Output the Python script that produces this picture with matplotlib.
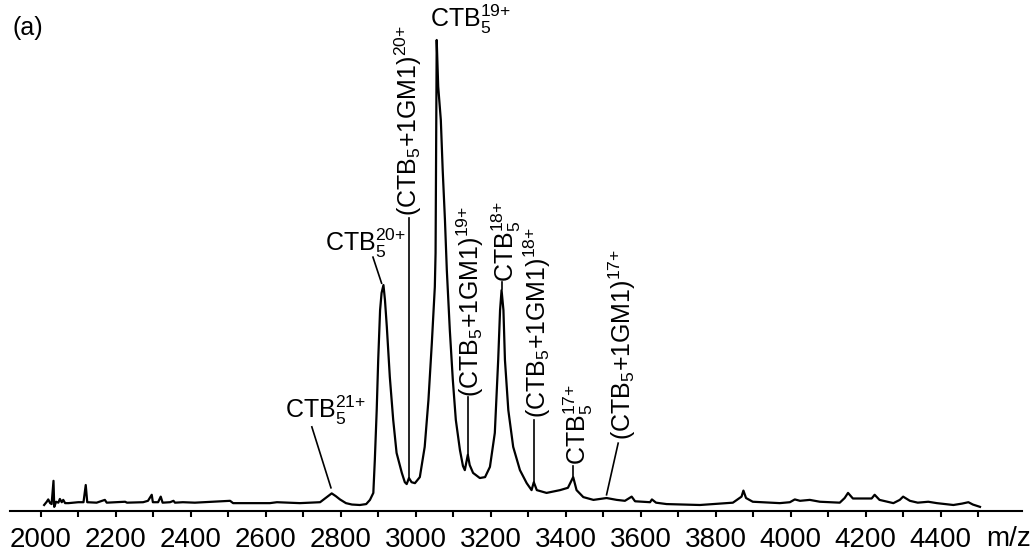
import numpy as np
import matplotlib.pyplot as plt
from matplotlib.ticker import FixedLocator

plt.rcParams['font.family'] = ['Liberation Sans', 'DejaVu Sans']
plt.rcParams['mathtext.fontset'] = 'custom'
plt.rcParams['mathtext.rm'] = 'Liberation Sans'
plt.rcParams['mathtext.it'] = 'Liberation Sans:italic'
plt.rcParams['mathtext.bf'] = 'Liberation Sans:bold'

# spectrum (m/z, relative intensity %)
mz = [2009, 2016, 2020, 2025, 2029, 2034, 2036, 2041, 2047, 2051, 2056, 2060, 2065,
      2074, 2100, 2114, 2120, 2124, 2149, 2171, 2176, 2225, 2230, 2273, 2286, 2296,
      2299, 2313, 2320, 2325, 2345, 2354, 2358, 2379, 2411, 2505, 2513, 2611, 2630,
      2691, 2718, 2745, 2763, 2776, 2787, 2798, 2814, 2830, 2851, 2868, 2878, 2887,
      2891, 2896, 2900, 2905, 2909, 2914, 2918, 2923, 2931, 2940, 2949, 2963, 2971,
      2976, 2982, 2989, 2998, 3011, 3024, 3034, 3043, 3051, 3053, 3054, 3055, 3056,
      3060, 3067, 3072, 3078, 3083, 3091, 3099, 3107, 3118, 3126, 3131, 3139, 3144,
      3153, 3171, 3185, 3198, 3211, 3220, 3225, 3229, 3234, 3238, 3247, 3260, 3278,
      3296, 3309, 3315, 3323, 3349, 3385, 3406, 3420, 3429, 3447, 3474, 3509, 3536,
      3558, 3576, 3585, 3625, 3630, 3641, 3669, 3758, 3846, 3869, 3874, 3881, 3899,
      3971, 3998, 4011, 4025, 4051, 4078, 4131, 4144, 4153, 4166, 4202, 4216, 4224,
      4237, 4274, 4291, 4300, 4318, 4339, 4367, 4390, 4434, 4457, 4474, 4486, 4505]
intensity = [0.0, 0.7, 1.2, 0.4, 0.2, 5.2, -0.4, 0.7, 0.5, 1.3, 0.6, 1.1, 0.4,
             0.4, 0.6, 0.6, 4.3, 0.6, 0.5, 1.1, 0.5, 0.7, 0.5, 0.6, 0.9, 2.2,
             0.6, 0.6, 1.8, 0.5, 0.6, 0.9, 0.5, 0.6, 0.5, 0.9, 0.4, 0.4, 0.6,
             0.4, 0.5, 0.6, 1.7, 2.5, 1.9, 1.2, 0.4, 0.1, 0.0, 0.2, 1.1, 2.6,
             9.7, 20.4, 31.2, 41.9, 45.6, 47.3, 44.1, 38.3, 27.5, 18.3, 11.2, 6.9, 4.9,
             4.5, 5.8, 4.9, 4.7, 6.0, 12.5, 22.6, 34.8, 46.9, 54.2, 68.4, 82.8, 100.0,
             90.0, 82.8, 72.0, 61.3, 50.5, 37.6, 26.9, 18.3, 11.8, 8.4, 7.5, 10.8, 8.6,
             6.9, 5.8, 6.0, 8.2, 15.5, 31.2, 41.9, 46.2, 41.9, 31.2, 20.4, 12.5, 7.5,
             4.7, 3.2, 4.9, 3.2, 2.6, 3.2, 3.7, 6.0, 3.2, 1.7, 1.1, 1.5, 1.1,
             0.9, 1.8, 0.8, 0.6, 1.2, 0.5, 0.2, 0.0, 0.5, 1.8, 3.1, 1.5, 0.7,
             0.4, 0.6, 1.2, 0.9, 1.1, 0.7, 0.5, 1.5, 2.6, 1.4, 1.4, 1.4, 2.2,
             1.1, 0.4, 1.1, 1.8, 0.9, 0.5, 0.7, 0.4, 0.0, 0.3, 0.6, 0.1, -0.4]

xticks = [2000, 2200, 2400, 2600, 2800, 3000, 3200, 3400, 3600, 3800, 4000, 4200, 4400]
minor_ticks = [2100, 2300, 2500, 2700, 2900, 3100, 3300, 3500, 3700, 3900, 4100, 4300, 4500]

# peak labels: text, m/z of the peak, rotated?
labels = [
    ('CTB$_5^{21{+}}$', 2776, False),
    ('CTB$_5^{20{+}}$', 2914, False),
    ('CTB$_5^{19{+}}$', 3056, False),
    ('(CTB$_5$+1GM1)$^{20{+}}$', 2982, True),
    ('(CTB$_5$+1GM1)$^{19{+}}$', 3139, True),
    ('CTB$_5^{18{+}}$', 3229, True),
    ('(CTB$_5$+1GM1)$^{18{+}}$', 3315, True),
    ('CTB$_5^{17{+}}$', 3420, True),
    ('(CTB$_5$+1GM1)$^{17{+}}$', 3509, True),
]

W, H = 1034, 554
fig = plt.figure(figsize=(W / 100, H / 100), dpi=100)
ax = fig.add_axes([10 / W, (H - 511) / H, 1012 / W, 511 / H])

ax.plot(mz, intensity, color='black', lw=1.6, solid_joinstyle='round')

ax.set_xlim(1918, 4617)
ax.set_ylim(-1.29, 108.6)
ax.set_xticks(xticks)
ax.xaxis.set_minor_locator(FixedLocator(minor_ticks))
ax.tick_params(axis='x', which='both', direction='out', length=4.5, width=1.5,
               labelsize=20, pad=7)
ax.set_yticks([])
for s in ['top', 'left', 'right']:
    ax.spines[s].set_visible(False)
ax.spines['bottom'].set_linewidth(1.5)

fig.text(1031 / W, 1 - 539 / H, 'm/z', ha='right', va='center', fontsize=20)
fig.text(12 / W, 1 - 28 / H, '(a)', ha='left', va='center', fontsize=18)

# label placement (text anchor, leader line)
place = {
    0: dict(xy=(2651, 20.4), line=[(2723, 16.8), (2774, 3.7)]),
    1: dict(xy=(2758, 56.3), line=[(2886, 53.3), (2909, 47.7)]),
    2: dict(xy=(3038, 104.5), line=None),
    3: dict(xy=(2981, 62.2), line=[(2982, 61.7), (2982, 5.8)]),
    4: dict(xy=(3145, 23.2), line=[(3139, 23.2), (3139, 10.8)]),
    5: dict(xy=(3241, 48.0), line=[(3229, 48.0), (3229, 46.5)]),
    6: dict(xy=(3325, 18.7), line=[(3315, 18.3), (3315, 4.9)]),
    7: dict(xy=(3434, 8.6), line=[(3420, 8.4), (3420, 6.3)]),
    8: dict(xy=(3551, 14.0), line=[(3540, 13.3), (3509, 2.2)]),
}
for i, (txt, pk, rot) in enumerate(labels):
    p = place[i]
    if rot:
        ax.text(p['xy'][0], p['xy'][1], txt, rotation=90, ha='center', va='bottom',
                fontsize=18)
    else:
        ax.text(p['xy'][0], p['xy'][1], txt, ha='left', va='center', fontsize=18)
    if p['line']:
        (x0, y0), (x1, y1) = p['line']
        ax.plot([x0, x1], [y0, y1], color='black', lw=1.2)

fig.savefig('out.png', dpi=100)
